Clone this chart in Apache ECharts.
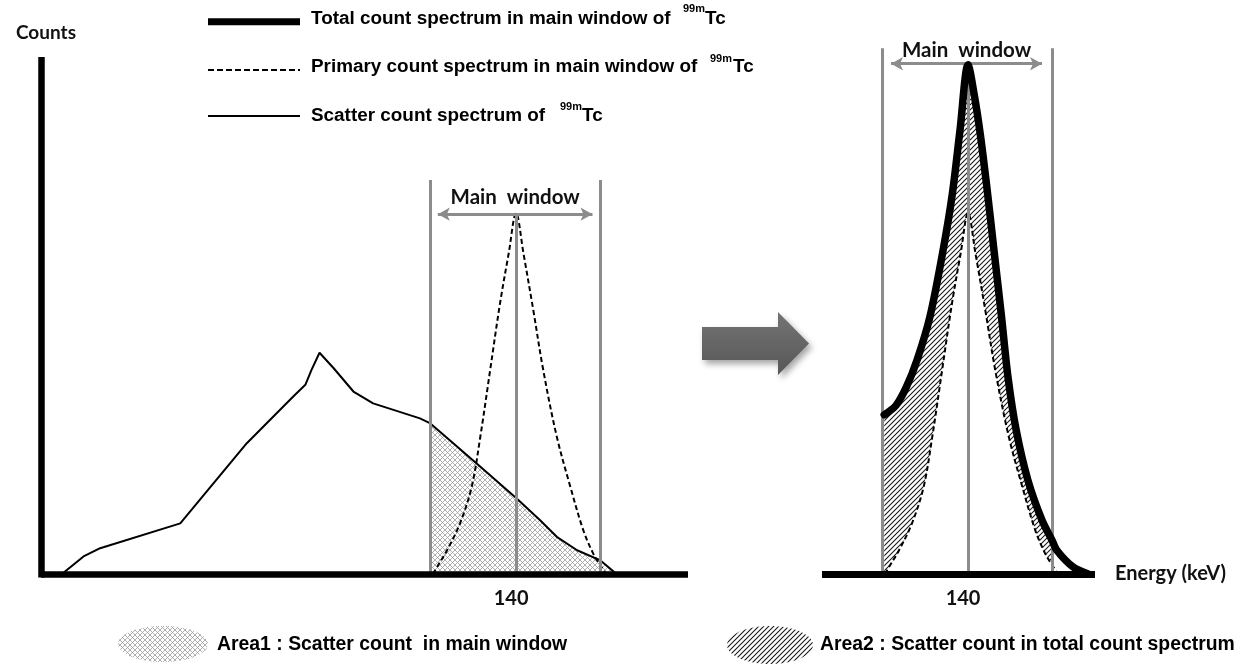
<!DOCTYPE html>
<html>
<head>
<meta charset="utf-8">
<script src="https://cdn.jsdelivr.net/npm/echarts@6/dist/echarts.min.js"></script>
<style>
  html, body { margin: 0; padding: 0; background: #fff; }
  #main { width: 1246px; height: 667px; }
</style>
</head>
<body>
<div id="main"></div>
<script>
// energy values (keV) and counts (arbitrary units)
const tickLabels = ['140'];
const windowKeV = [126, 153.6];
const peakKeV = 140;

// scatter spectrum of 99mTc (left panel)
const scatterSpectrum = [
  [66.3, 0], [69.8, 3.4], [72.5, 5.0], [85.5, 9.8], [96.3, 25.3], [103.8, 34.3],
  [105.8, 36.6], [106.8, 39.5], [108.1, 42.8], [110.4, 39.8], [113.6, 35.3],
  [116.8, 33.0], [124.4, 30.1], [126.0, 29.2], [133.6, 21.4], [140.1, 14.6],
  [143.9, 10.4], [146.6, 7.2], [149.9, 4.6], [153.6, 2.7], [156.3, 0]
];

// primary photopeak (both panels)
const primarySpectrum = [
  [126.5, 0], [127.3, 1.6], [128.8, 4.6], [130.9, 9.8], [132.8, 16.9], [134.2, 26.6],
  [135.8, 39.5], [137.4, 52.4], [138.8, 62.0], [140.0, 69.8], [141.2, 62.0],
  [142.8, 51.0], [144.4, 39.5], [146.6, 26.6], [148.8, 16.9], [150.9, 8.5],
  [152.5, 4.0], [153.6, 1.8], [154.6, 0]
];

// total count spectrum in main window (right panel)
const totalSpectrum = [
  [126.4, 30.8], [128.3, 32.6], [130.0, 36.2], [131.7, 41.3], [133.8, 49.7],
  [135.9, 62.3], [137.4, 73.1], [138.7, 85.9], [140.0, 98.5], [141.0, 92.7],
  [142.0, 84.9], [143.1, 74.3], [144.2, 62.7], [145.4, 50.1], [146.5, 37.9],
  [147.8, 27.9], [149.7, 18.2], [152.0, 10.4], [153.6, 6.6], [154.4, 4.6],
  [157.0, 1.4], [159.5, 0]
];

const legendLabels = [
  'Total count spectrum in main window of',
  'Primary count spectrum in main window of',
  'Scatter count spectrum of'
];
const areaLabels = [
  'Area1 : Scatter count  in main window',
  'Area2 : Scatter count in total count spectrum'
];

// hatch tiles
function makePattern(cross, color, width) {
  const s = 5;
  const c = document.createElement('canvas');
  c.width = s; c.height = s;
  const ctx = c.getContext('2d');
  ctx.fillStyle = '#fff';
  ctx.fillRect(0, 0, s, s);
  ctx.strokeStyle = color;
  ctx.lineWidth = width;
  ctx.beginPath();
  ctx.moveTo(0, s); ctx.lineTo(s, 0);
  ctx.moveTo(-1, 1); ctx.lineTo(1, -1);
  ctx.moveTo(s - 1, s + 1); ctx.lineTo(s + 1, s - 1);
  if (cross) {
    ctx.moveTo(0, 0); ctx.lineTo(s, s);
    ctx.moveTo(-1, s - 1); ctx.lineTo(1, s + 1);
    ctx.moveTo(s - 1, -1); ctx.lineTo(s + 1, 1);
  }
  ctx.stroke();
  return c;
}
const crossHatch = { image: makePattern(true, '#9a9a9a', 0.8), repeat: 'repeat' };
const diagHatch = { image: makePattern(false, '#1a1a1a', 1.1), repeat: 'repeat' };

const gray = '#8c8c8c';
const calibriLike = 'Lato, "Open Sans", sans-serif';
const arialLike = '"Liberation Sans", Arial, sans-serif';

const windowLabel = {
  show: true,
  position: 'insideMiddleTop',
  formatter: 'Main  window',
  color: '#111',
  fontFamily: calibriLike,
  fontWeight: 'bold',
  fontSize: 20.5
};

function windowMarks(xMin, lineTop, arrowY, arrowFrom, arrowTo, labelDist, withYAxis) {
  const d = [];
  if (withYAxis) {
    d.push([{ coord: [xMin, -0.65], lineStyle: { color: '#000', width: 6.5, cap: 'butt' } }, { coord: [xMin, 100] }]);
  }
  d.push([{ coord: [windowKeV[0], 0] }, { coord: [windowKeV[0], lineTop] }]);
  d.push([{ coord: [peakKeV, 0] }, { coord: [peakKeV, arrowY] }]);
  d.push([{ coord: [windowKeV[1], 0] }, { coord: [windowKeV[1], lineTop] }]);
  d.push([
    { coord: [arrowFrom, arrowY], symbol: 'arrow', symbolSize: [10, 12],
      label: Object.assign({ distance: labelDist }, windowLabel) },
    { coord: [arrowTo, arrowY], symbol: 'arrow', symbolSize: [10, 12] }
  ]);
  return {
    silent: true,
    symbol: 'none',
    animation: false,
    lineStyle: { color: gray, width: 3, type: 'solid' },
    label: { show: false },
    emphasis: { disabled: true },
    data: d
  };
}

const axisLabelStyle = {
  customValues: tickLabels.map(Number),
  formatter: v => String(v),
  margin: 9.5,
  padding: [0, 10, 0, 0],
  color: '#111',
  fontFamily: calibriLike,
  fontWeight: 'bold',
  fontSize: 20
};

const chart = echarts.init(document.getElementById('main'), null, { renderer: 'canvas' });

// y scale: 5.17 px per count unit, value 0 sits at y = 574
const grids = [
  { left: 41, top: 5.3, width: 647, height: 573.9 },
  { left: 822, top: 5.3, width: 273, height: 573.9 }
];

const option = {
  animation: false,
  backgroundColor: '#fff',
  grid: grids,
  xAxis: [
    {
      gridIndex: 0, type: 'value', min: 62.9, max: 167.9, z: 10,
      axisLine: { onZero: true, lineStyle: { color: '#000', width: 6.5, cap: 'butt' } },
      axisTick: { show: false }, splitLine: { show: false },
      axisLabel: axisLabelStyle
    },
    {
      gridIndex: 1, type: 'value', min: 116.3, max: 160.6, z: 10,
      axisLine: { onZero: true, lineStyle: { color: '#000', width: 7, cap: 'butt' } },
      axisTick: { show: false }, splitLine: { show: false },
      axisLabel: axisLabelStyle,
      name: 'Energy (keV)', nameLocation: 'end', nameGap: 20,
      nameTextStyle: { color: '#111', fontFamily: calibriLike, fontWeight: 'bold', fontSize: 20 }
    }
  ],
  yAxis: [
    { gridIndex: 0, type: 'value', min: -1, max: 110, show: false },
    { gridIndex: 1, type: 'value', min: -1, max: 110, show: false }
  ],
  series: [
    // ---- left panel
    {
      type: 'line', xAxisIndex: 0, yAxisIndex: 0, z: 1, silent: true,
      data: scatterSpectrum.filter(p => p[0] >= windowKeV[0]),
      symbol: 'none', lineStyle: { width: 0 },
      areaStyle: { color: crossHatch, opacity: 1, origin: 0 }
    },
    {
      type: 'line', xAxisIndex: 0, yAxisIndex: 0, z: 3, silent: true, data: [],
      markLine: windowMarks(62.9, 76.2, 69.6, 127.3, 152.4, 6, true)
    },
    {
      type: 'line', xAxisIndex: 0, yAxisIndex: 0, z: 4, silent: true,
      data: scatterSpectrum, symbol: 'none',
      lineStyle: { color: '#000', width: 2 }
    },
    {
      type: 'line', xAxisIndex: 0, yAxisIndex: 0, z: 4, silent: true,
      data: primarySpectrum, symbol: 'none', smooth: 0.35,
      lineStyle: { color: '#000', width: 2, type: [5, 3] }
    },
    // ---- right panel
    {
      type: 'line', xAxisIndex: 1, yAxisIndex: 1, z: 1, silent: true,
      data: totalSpectrum.filter(p => p[0] <= windowKeV[1]),
      symbol: 'none', smooth: 0.3, lineStyle: { width: 0 },
      areaStyle: { color: diagHatch, opacity: 1, origin: 0 }
    },
    {
      type: 'line', xAxisIndex: 1, yAxisIndex: 1, z: 2, silent: true,
      data: primarySpectrum, symbol: 'none', smooth: 0.35, lineStyle: { width: 0 },
      areaStyle: { color: '#fff', opacity: 1, origin: 0 }
    },
    {
      type: 'line', xAxisIndex: 1, yAxisIndex: 1, z: 3, silent: true, data: [],
      markLine: windowMarks(116.3, 101.7, 98.7, 127.5, 152.0, 3, false)
    },
    {
      type: 'line', xAxisIndex: 1, yAxisIndex: 1, z: 4, silent: true,
      data: primarySpectrum, symbol: 'none', smooth: 0.35,
      lineStyle: { color: '#000', width: 2, type: [5, 3] }
    },
    {
      type: 'line', xAxisIndex: 1, yAxisIndex: 1, z: 5, silent: true,
      data: totalSpectrum, symbol: 'none', smooth: 0.3,
      lineStyle: { color: '#000', width: 7.5, cap: 'round', join: 'round' }
    }
  ],
  graphic: [
    { type: 'text', x: 16, y: 33, style: { text: 'Counts', fill: '#111', font: 'bold 19px ' + calibriLike, verticalAlign: 'middle' } },

    // legend samples
    { type: 'line', shape: { x1: 208, y1: 21.7, x2: 300, y2: 21.7 }, style: { stroke: '#000', lineWidth: 7 } },
    { type: 'line', shape: { x1: 208, y1: 70, x2: 300, y2: 70 }, style: { stroke: '#000', lineWidth: 2, lineDash: [6, 3] } },
    { type: 'line', shape: { x1: 208, y1: 116, x2: 300, y2: 116 }, style: { stroke: '#000', lineWidth: 2 } },

    { type: 'text', x: 311, y: 18.3, style: { text: legendLabels[0], fill: '#000', font: 'bold 18.9px ' + arialLike, verticalAlign: 'middle' } },
    { type: 'text', x: 683, y: 9, style: { text: '99m', fill: '#000', font: 'bold 11px ' + arialLike, verticalAlign: 'middle' } },
    { type: 'text', x: 705, y: 18.3, style: { text: 'Tc', fill: '#000', font: 'bold 18.9px ' + arialLike, verticalAlign: 'middle' } },

    { type: 'text', x: 311, y: 66.7, style: { text: legendLabels[1], fill: '#000', font: 'bold 18.9px ' + arialLike, verticalAlign: 'middle' } },
    { type: 'text', x: 710, y: 58.5, style: { text: '99m', fill: '#000', font: 'bold 11px ' + arialLike, verticalAlign: 'middle' } },
    { type: 'text', x: 733, y: 66.7, style: { text: 'Tc', fill: '#000', font: 'bold 18.9px ' + arialLike, verticalAlign: 'middle' } },

    { type: 'text', x: 311, y: 115.5, style: { text: legendLabels[2], fill: '#000', font: 'bold 18.9px ' + arialLike, verticalAlign: 'middle' } },
    { type: 'text', x: 560, y: 107, style: { text: '99m', fill: '#000', font: 'bold 11px ' + arialLike, verticalAlign: 'middle' } },
    { type: 'text', x: 582, y: 115.5, style: { text: 'Tc', fill: '#000', font: 'bold 18.9px ' + arialLike, verticalAlign: 'middle' } },

    // block arrow between panels
    {
      type: 'polygon',
      shape: { points: [[702, 327], [778, 327], [778, 312], [809, 343.5], [778, 375], [778, 360], [702, 360]] },
      style: {
        fill: new echarts.graphic.LinearGradient(0, 0, 0, 1, [
          { offset: 0, color: '#747474' }, { offset: 1, color: '#575757' }
        ]),
        shadowBlur: 6, shadowOffsetX: 3, shadowOffsetY: 4, shadowColor: 'rgba(0,0,0,0.35)'
      }
    },

    // area keys
    { type: 'ellipse', shape: { cx: 163, cy: 644, rx: 45, ry: 18 }, style: { fill: crossHatch } },
    { type: 'text', x: 217, y: 645, style: { text: areaLabels[0], fill: '#000', font: 'bold 19.4px ' + arialLike, verticalAlign: 'middle' } },
    { type: 'ellipse', shape: { cx: 770, cy: 645, rx: 43, ry: 19 }, style: { fill: diagHatch } },
    { type: 'text', x: 820, y: 645, style: { text: areaLabels[1], fill: '#000', font: 'bold 19.4px ' + arialLike, verticalAlign: 'middle' } }
  ]
};

chart.setOption(option);
</script>
</body>
</html>
